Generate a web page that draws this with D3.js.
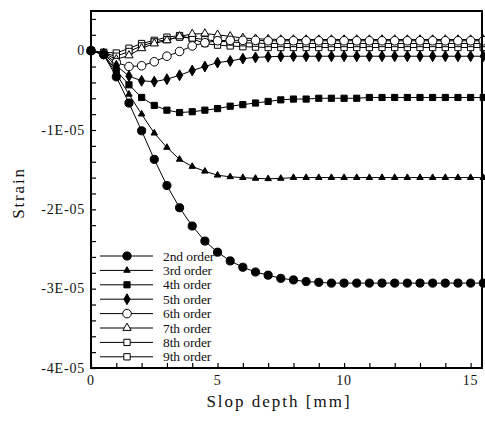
<!DOCTYPE html>
<html>
<head>
<meta charset="utf-8">
<script src="https://cdn.jsdelivr.net/npm/d3@7"></script>
<style>
  body { margin: 0; background: #fff; }
  text { font-family: "Liberation Serif", serif; fill: #111; }
</style>
</head>
<body>
<svg id="vis" width="485" height="421"></svg>
<script>
// slope depth in mm, strain in units of 1E-05
const depth = [0, 0.5, 1, 1.5, 2, 2.5, 3, 3.5, 4, 4.5, 5, 5.5, 6, 6.5, 7, 7.5, 8, 8.5,
  9, 9.5, 10, 10.5, 11, 11.5, 12, 12.5, 13, 13.5, 14, 14.5, 15, 15.5];

const order2 = [0, -0.05, -0.33, -0.66, -1.01, -1.37, -1.70, -1.98, -2.21, -2.40, -2.54, -2.65,
  -2.73, -2.79, -2.83, -2.87, -2.89, -2.91, -2.92, -2.93, -2.93, -2.93, -2.93, -2.93, -2.93,
  -2.93, -2.93, -2.93, -2.93, -2.93, -2.93, -2.93];
const order3 = [0, -0.05, -0.29, -0.55, -0.80, -1.04, -1.22, -1.37, -1.46, -1.52, -1.57, -1.59,
  -1.60, -1.61, -1.615, -1.61, -1.60, -1.60, -1.60, -1.60, -1.60, -1.60, -1.60, -1.60, -1.60,
  -1.60, -1.60, -1.60, -1.60, -1.60, -1.60, -1.60];
const order4 = [0, -0.05, -0.25, -0.43, -0.59, -0.69, -0.75, -0.78, -0.77, -0.75, -0.73, -0.70,
  -0.68, -0.66, -0.64, -0.62, -0.61, -0.61, -0.60, -0.60, -0.60, -0.60, -0.59, -0.59, -0.59,
  -0.59, -0.59, -0.59, -0.59, -0.59, -0.59, -0.59];
const order5 = [0, -0.04, -0.19, -0.32, -0.38, -0.39, -0.36, -0.31, -0.25, -0.20, -0.15, -0.13,
  -0.10, -0.085, -0.077, -0.072, -0.07, -0.07, -0.07, -0.07, -0.07, -0.07, -0.07, -0.07, -0.07,
  -0.07, -0.07, -0.07, -0.07, -0.07, -0.07, -0.07];
const order6 = [0, -0.04, -0.15, -0.20, -0.19, -0.14, -0.07, -0.01, 0.06, 0.10, 0.125, 0.13,
  0.13, 0.13, 0.125, 0.125, 0.125, 0.125, 0.125, 0.125, 0.125, 0.125, 0.125, 0.125, 0.125,
  0.125, 0.125, 0.125, 0.125, 0.125, 0.125, 0.125];
const order7 = [0, -0.03, -0.11, -0.06, 0.03, 0.09, 0.13, 0.18, 0.21, 0.215, 0.20, 0.18,
  0.16, 0.15, 0.145, 0.14, 0.14, 0.14, 0.14, 0.14, 0.14, 0.14, 0.14, 0.14, 0.14,
  0.14, 0.14, 0.14, 0.14, 0.14, 0.14, 0.14];
const order8 = [0, -0.03, -0.07, -0.01, 0.06, 0.11, 0.14, 0.17, 0.16, 0.14, 0.12, 0.11,
  0.10, 0.095, 0.09, 0.09, 0.09, 0.09, 0.09, 0.09, 0.09, 0.09, 0.09, 0.09, 0.09,
  0.09, 0.09, 0.09, 0.09, 0.09, 0.09, 0.09];
const order9 = [0, -0.02, -0.03, 0.03, 0.09, 0.13, 0.17, 0.19, 0.15, 0.09, 0.07, 0.06,
  0.05, 0.045, 0.04, 0.04, 0.04, 0.04, 0.04, 0.04, 0.04, 0.04, 0.04, 0.04, 0.04,
  0.04, 0.04, 0.04, 0.04, 0.04, 0.04, 0.04];

const seriesNames = ["2nd order", "3rd order", "4th order", "5th order", "6th order",
  "7th order", "8th order", "9th order"];
const seriesValues = [order2, order3, order4, order5, order6, order7, order8, order9];

const xTicks = [0, 5, 10, 15];
const yTicks = [0, -1, -2, -3, -4];
const yTickLabels = ["0", "-1E-05", "-2E-05", "-3E-05", "-4E-05"];

// marker look for each series
const markers = [
  { type: d3.symbolCircle, size: 52, fill: "#000" },
  { type: d3.symbolTriangle, size: 18, fill: "#000" },
  { type: d3.symbolSquare, size: 38, fill: "#000" },
  { type: d3.symbolDiamond, size: 34, fill: "#000" },
  { type: d3.symbolCircle, size: 58, fill: "#fff" },
  { type: d3.symbolTriangle, size: 30, fill: "#fff" },
  { type: d3.symbolSquare, size: 40, fill: "#fff" },
  { type: d3.symbolSquare, size: 40, fill: "#fff" }
];

const box = { left: 91, right: 482, top: 11, bottom: 368 };

const svg = d3.select("#vis");

let x = d3.scaleLinear().domain([0, 15.45]).range([box.left, box.right]);
let y = d3.scaleLinear().domain([-4, 0.5]).range([box.bottom, box.top]);

// minor + major ticks, pointing inward
let xAxis = d3.axisBottom(x).tickValues(d3.range(0, 16, 1)).tickSize(-5).tickFormat("");
svg.append("g").attr("transform", "translate(0," + box.bottom + ")").call(xAxis)
  .call(g => g.select(".domain").remove());

let yAxis = d3.axisLeft(y).tickValues(d3.range(-40, 6, 2).map(d => d / 10)).tickSize(-5).tickFormat("");
svg.append("g").attr("transform", "translate(" + box.left + ",0)").call(yAxis)
  .call(g => g.select(".domain").remove());

svg.selectAll(".tick line").attr("stroke", "#000").attr("stroke-width", 1.2);

svg.selectAll(".xlab")
  .data(xTicks)
  .enter().append("text")
  .attr("x", d => x(d))
  .attr("y", box.bottom + 17)
  .attr("text-anchor", "middle")
  .style("font-size", "14px")
  .style("letter-spacing", "0.8px")
  .text(d => d);

svg.selectAll(".ylab")
  .data(yTicks)
  .enter().append("text")
  .attr("x", box.left - 6)
  .attr("y", d => y(d) + 4.5)
  .attr("text-anchor", "end")
  .style("font-size", "14px")
  .style("letter-spacing", "0.8px")
  .text((d, i) => yTickLabels[i]);

svg.append("text")
  .attr("x", 279)
  .attr("y", 407)
  .attr("text-anchor", "middle")
  .style("font-size", "17px")
  .style("letter-spacing", "2px")
  .text("Slop depth [mm]");

svg.append("text")
  .attr("transform", "translate(24,193) rotate(-90)")
  .attr("text-anchor", "middle")
  .style("font-size", "17px")
  .style("letter-spacing", "1.8px")
  .text("Strain");

let line = d3.line().x((d, i) => x(depth[i])).y(d => y(d));

let plot = svg.append("g");

// draw from last to first so the filled markers sit on top
for (let s = seriesValues.length - 1; s >= 0; s--) {
  let vals = seriesValues[s];
  let m = markers[s];
  plot.append("path")
    .attr("d", line(vals))
    .attr("fill", "none")
    .attr("stroke", "#000")
    .attr("stroke-width", 1);
  plot.selectAll(".m" + s)
    .data(vals)
    .enter().append("path")
    .attr("transform", (d, i) => "translate(" + x(depth[i]) + "," + y(d) + ")")
    .attr("d", d3.symbol().type(m.type).size(m.size))
    .attr("fill", m.fill)
    .attr("stroke", "#000")
    .attr("stroke-width", 1);
}

// legend
let legend = svg.append("g");
seriesNames.forEach(function(name, i) {
  let ly = 256 + i * 14.4;
  legend.append("line")
    .attr("x1", 100).attr("x2", 153)
    .attr("y1", ly).attr("y2", ly)
    .attr("stroke", "#000").attr("stroke-width", 1);
  legend.append("path")
    .attr("transform", "translate(127," + ly + ")")
    .attr("d", d3.symbol().type(markers[i].type).size(markers[i].size))
    .attr("fill", markers[i].fill)
    .attr("stroke", "#000");
  legend.append("text")
    .attr("x", 163)
    .attr("y", ly + 4.5)
    .style("font-size", "13.5px")
    .style("letter-spacing", "-0.1px")
    .text(name);
});

// frame
svg.append("rect")
  .attr("x", box.left).attr("y", box.top)
  .attr("width", box.right - box.left).attr("height", box.bottom - box.top)
  .attr("fill", "none")
  .attr("stroke", "#000")
  .attr("stroke-width", 2);
</script>
</body>
</html>
